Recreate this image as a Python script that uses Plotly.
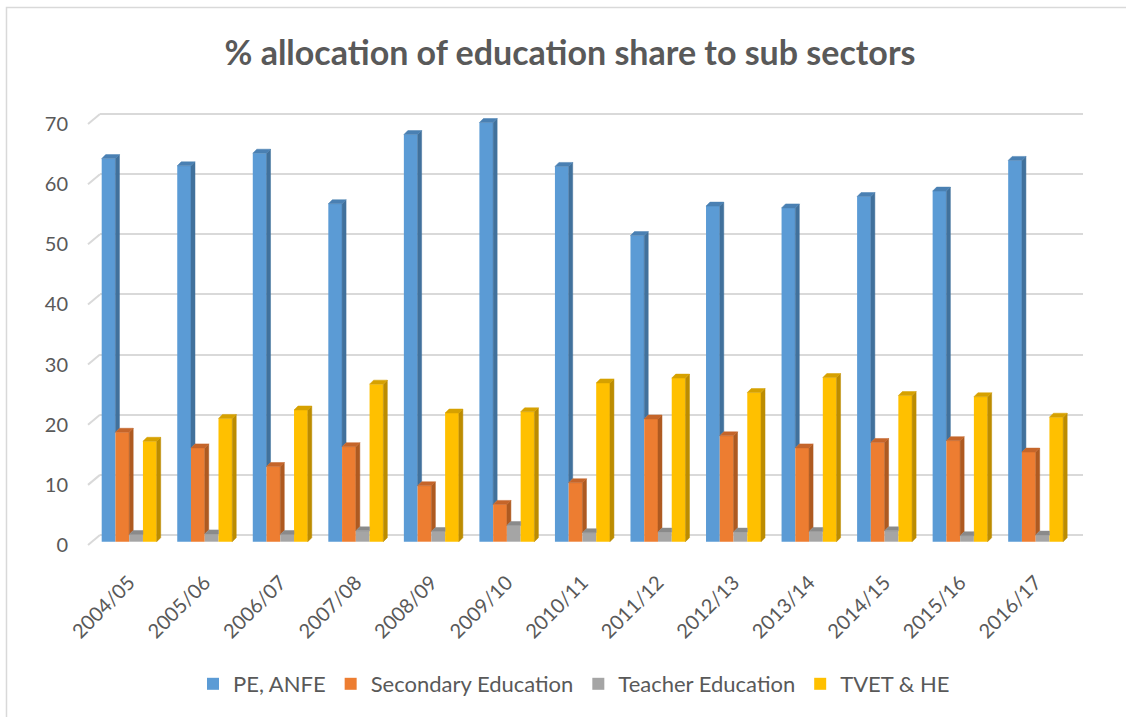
import plotly.graph_objects as go

# ---- data -------------------------------------------------------------
years = ["2004/05", "2005/06", "2006/07", "2007/08", "2008/09", "2009/10",
         "2010/11", "2011/12", "2012/13", "2013/14", "2014/15", "2015/16",
         "2016/17"]
pe_anfe = [63.7, 62.5, 64.6, 56.2, 67.7, 69.7, 62.4, 50.9, 55.8, 55.5, 57.4, 58.3, 63.4]
secondary = [18.2, 15.6, 12.5, 15.8, 9.3, 6.2, 9.8, 20.4, 17.6, 15.6, 16.5, 16.8, 14.9]
teacher = [1.2, 1.3, 1.2, 1.8, 1.7, 2.7, 1.5, 1.6, 1.6, 1.7, 1.8, 1.0, 1.1]
tvet_he = [16.7, 20.5, 21.9, 26.2, 21.4, 21.6, 26.4, 27.2, 24.8, 27.3, 24.3, 24.1, 20.7]
series_names = ["PE, ANFE", "Secondary Education", "Teacher Education", "TVET & HE"]
y_ticks = [0, 10, 20, 30, 40, 50, 60, 70]

# ---- styling ------------------------------------------------------------
front_colors = ["#5B9BD5", "#ED7D31", "#A5A5A5", "#FFC000"]
side_colors = ["#41719C", "#AE5A21", "#7C7C7C", "#BC8C00"]
top_colors = ["#4A80B3", "#C5652A", "#8A8A8A", "#D6A100"]
TEXT = "#595959"
GRID = "#D9D9D9"
FONT = "Lato"

W, H = 1126, 717
PLOT_L, PLOT_R, PLOT_T, PLOT_B = 100, 1083, 100, 560   # back-wall plot box (px)
CAT_X0, CAT_STEP = 129.2, 75.54                        # first category centre, spacing (px)
Y_SCALE = 6.014                                        # px per percentage point
ZERO_BARS, ZERO_BACK, ZERO_FRONT = 541.7, 535.0, 545.0 # px of value 0 on each depth plane
FRONT_SHIFT_X = 12                                     # front edge lies 12 px left of back wall

GROUP_W = 0.728                # width of one category cluster (category units)
BAR_W = GROUP_W / 4
DEPTH_X = 4 / CAT_STEP         # bar extrusion, category units
DEPTH_Y = 4 / Y_SCALE          # bar extrusion, value units


def y_range(zero_px):
    return [(zero_px - PLOT_B) / Y_SCALE, (zero_px - PLOT_T) / Y_SCALE]


x_range = [(PLOT_L - CAT_X0) / CAT_STEP, (PLOT_R - CAT_X0) / CAT_STEP]
xs = list(range(len(years)))
series = [pe_anfe, secondary, teacher, tvet_he]

fig = go.Figure()

# front faces of the columns
for k, (name, vals) in enumerate(zip(series_names, series)):
    fig.add_trace(go.Bar(
        x=xs, y=vals, name=name, width=BAR_W,
        offset=-GROUP_W / 2 + k * BAR_W,
        marker=dict(color=front_colors[k], line=dict(width=0)),
        hovertemplate=name + " %{customdata}: %{y}<extra></extra>",
        customdata=years,
    ))

# right-hand and top faces of the columns, trimmed where the next column hides them
for k, vals in enumerate(series):
    nxt_vals = series[k + 1] if k + 1 < len(series) else None
    sx, sy, tx, ty = [], [], [], []
    for i, v in enumerate(vals):
        xl = i - GROUP_W / 2 + k * BAR_W
        xr = xl + BAR_W
        nxt = nxt_vals[i] if nxt_vals is not None else None
        lo = 0 if nxt is None else nxt
        if lo < v:
            sx += [xr, xr + DEPTH_X, xr + DEPTH_X, xr, xr, None]
            sy += [lo, lo + DEPTH_Y, v + DEPTH_Y, v, lo, None]
        if nxt is None or nxt <= v:
            tx += [xl, xr, xr + DEPTH_X, xl + DEPTH_X, xl, None]
            ty += [v, v, v + DEPTH_Y, v + DEPTH_Y, v, None]
        elif nxt - v >= DEPTH_Y:
            tx += [xl, xr, xr, xl + DEPTH_X, xl, None]
            ty += [v, v, v + DEPTH_Y, v + DEPTH_Y, v, None]
        else:
            tau = 1 - (nxt - v) / DEPTH_Y
            tx += [xl, xr, xr, xr + tau * DEPTH_X, xl + DEPTH_X, xl, None]
            ty += [v, v, nxt, v + DEPTH_Y, v + DEPTH_Y, v, None]
    for fx, fy, col in ((sx, sy, side_colors[k]), (tx, ty, top_colors[k])):
        if fx:
            fig.add_trace(go.Scatter(
                x=fx, y=fy, mode="lines", fill="toself", fillcolor=col,
                line=dict(color=col, width=0.5), showlegend=False,
                hoverinfo="skip",
            ))

# the back wall (gridlines) and front edge (value labels) are separate depth planes;
# each gets an empty trace so that its axis is laid out
for axis_name in ("y2", "y3"):
    fig.add_trace(go.Scatter(
        x=[xs[0]] * len(y_ticks), y=y_ticks, yaxis=axis_name, mode="none",
        showlegend=False, hoverinfo="skip",
    ))


def px_to_paper_x(px):
    return (px - PLOT_L) / (PLOT_R - PLOT_L)


def px_to_paper_y(py):
    return (PLOT_B - py) / (PLOT_B - PLOT_T)


shapes = []
# short receding ticks joining the front edge to the back-wall gridlines
for v in y_ticks:
    shapes.append(dict(
        type="line", xref="paper", yref="paper",
        x0=px_to_paper_x(PLOT_L - FRONT_SHIFT_X), y0=px_to_paper_y(ZERO_FRONT - Y_SCALE * v),
        x1=0, y1=px_to_paper_y(ZERO_BACK - Y_SCALE * v),
        line=dict(color=GRID, width=2),
    ))
# chart frame
shapes.append(dict(
    type="path", xref="paper", yref="paper",
    path="M {:.5f} {:.5f} L {:.5f} {:.5f} L {:.5f} {:.5f}".format(
        px_to_paper_x(6.5), px_to_paper_y(H + 5),
        px_to_paper_x(6.5), px_to_paper_y(7.5),
        px_to_paper_x(W + 5), px_to_paper_y(7.5)),
    line=dict(color=GRID, width=1.5),
))

fig.update_layout(
    width=W, height=H,
    margin=dict(l=PLOT_L, r=W - PLOT_R, t=PLOT_T, b=H - PLOT_B, pad=0),
    paper_bgcolor="white", plot_bgcolor="rgba(0,0,0,0)",
    barmode="overlay",
    font=dict(family=FONT, color=TEXT, size=20),
    title=dict(
        text="% allocation of education share to sub sectors",
        x=570 / W, xref="container", xanchor="center",
        y=1 - 53 / H, yref="container", yanchor="middle",
        font=dict(family=FONT, size=34, color=TEXT, weight="bold"),
    ),
    xaxis=dict(
        range=x_range, tickmode="array", tickvals=xs, ticktext=years,
        tickangle=-45, showgrid=False, zeroline=False, showline=False,
        ticks="", ticklabelstandoff=6,
        tickfont=dict(family=FONT, size=20, color=TEXT),
    ),
    yaxis=dict(range=y_range(ZERO_BARS), showgrid=False, zeroline=False,
               showticklabels=False, ticks=""),
    yaxis2=dict(range=y_range(ZERO_BACK), overlaying="y", anchor="x",
                tickmode="array", tickvals=y_ticks, showgrid=True,
                gridcolor=GRID, gridwidth=2, zeroline=False,
                showticklabels=False, ticks=""),
    yaxis3=dict(range=y_range(ZERO_FRONT), overlaying="y", anchor="x",
                side="left", tickmode="array", tickvals=y_ticks,
                showgrid=False, zeroline=False, ticks="",
                ticklabelstandoff=31,
                tickfont=dict(family=FONT, size=20, color=TEXT)),
    legend=dict(
        orientation="h", x=574 / W, xref="container", xanchor="center",
        y=1 - 684 / H, yref="container", yanchor="middle",
        font=dict(family=FONT, size=22, color=TEXT),
        traceorder="normal", itemclick=False, itemdoubleclick=False,
    ),
    shapes=shapes,
    showlegend=True,
)

fig.write_html("out.html", config={"displayModeBar": False})
